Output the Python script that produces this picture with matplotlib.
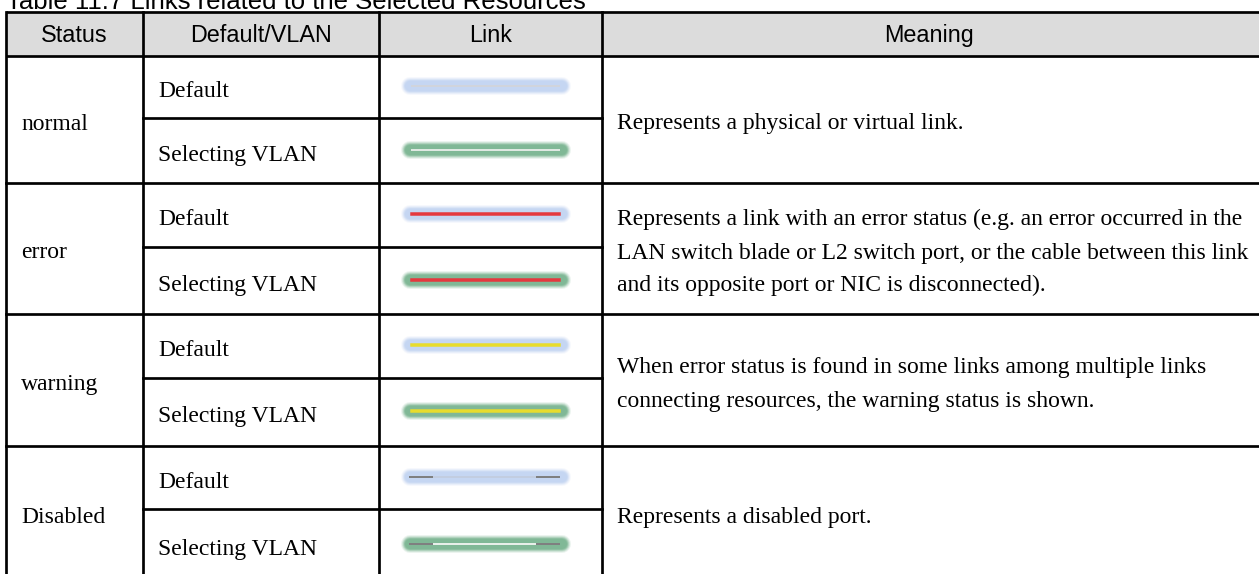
import matplotlib
matplotlib.use("Agg")
import matplotlib.pyplot as plt

# ---------------- data ----------------
title = "Table 11.7 Links related to the Selected Resources"
headers = ["Status", "Default/VLAN", "Link", "Meaning"]
statuses = ["normal", "error", "warning", "Disabled"]
subrows = ["Default", "Selecting VLAN"]
meanings = [
    ["Represents a physical or virtual link."],
    ["Represents a link with an error status (e.g. an error occurred in the",
     "LAN switch blade or L2 switch port, or the cable between this link",
     "and its opposite port or NIC is disconnected)."],
    ["When error status is found in some links among multiple links",
     "connecting resources, the warning status is shown."],
    ["Represents a disabled port."],
]
# link core colours per status
link_core = ["#d2d6de", "#e5383e", "#e8dc2c", "#7f8080"]
# glow colours per sub-row
glow_colors = ["#c5d6f2", "#80b896"]

# ---------------- layout (pixel coords) ----------------
W, H = 1259, 574
col_x = [6, 143, 379, 602, 1262]
header_top, header_bot = 12, 56
row_bounds = [56, 118, 183, 247, 314, 378, 446, 509, 580]

fig = plt.figure(figsize=(W / 100, H / 100), dpi=100)
ax = fig.add_axes([0, 0, 1, 1])
ax.set_xlim(0, W)
ax.set_ylim(H, 0)
ax.axis("off")

PX = 0.72  # points per pixel
LW = 2.7 * PX

# header background
ax.fill_between([col_x[0], col_x[-1]], header_top, header_bot, color="#dcdcdc", zorder=0)

# title (partly cut off at the top, as in the reference)
ax.text(6, 9, title, fontsize=18.5, family="Liberation Sans", va="baseline", ha="left")

# header texts
for i, h in enumerate(headers):
    cx = (col_x[i] + col_x[i + 1]) / 2
    if i == 3:
        cx = 929
    ax.text(cx, 42, h, fontsize=16.8, family="Liberation Sans", ha="center", va="baseline")

# grid lines
ax.plot([col_x[0], col_x[-1]], [header_top, header_top], color="black", lw=LW, solid_capstyle="butt")
ax.plot([col_x[0], col_x[-1]], [header_bot, header_bot], color="black", lw=LW, solid_capstyle="butt")
for x in col_x[:-1]:
    ax.plot([x, x], [header_top, H + 5], color="black", lw=LW)
for k, yb in enumerate(row_bounds[1:-1]):
    if k % 2 == 1:  # full-width boundary between statuses
        ax.plot([col_x[0], col_x[-1]], [yb, yb], color="black", lw=LW)
    else:  # sub-row boundary
        ax.plot([col_x[1], col_x[3]], [yb, yb], color="black", lw=LW)

serif = "Liberation Serif"
FS = 17
LINE_H = 33
BASE = 10  # baseline offset from a cell's vertical centre

x0, x1 = 406, 566  # glow extent
cx0, cx1 = 412, 559  # core extent

def draw_glow(y, color):
    for w, a in [(18, 0.15), (16, 0.25), (14, 0.4), (12, 0.7), (10, 1.0)]:
        ax.plot([x0 + 4, x1 - 4], [y, y], color=color, lw=w * PX, alpha=a,
                solid_capstyle="round", zorder=2)

for s, status in enumerate(statuses):
    top = row_bounds[2 * s]
    mid = row_bounds[2 * s + 1]
    bot = row_bounds[2 * s + 2]
    ycenter = (top + bot) / 2
    ax.text(21, ycenter + BASE, status, fontsize=FS, family=serif, ha="left", va="baseline")
    lines = meanings[s]
    n = len(lines)
    for j, ln in enumerate(lines):
        yy = ycenter + (j - (n - 1) / 2) * LINE_H + BASE
        ax.text(617, yy, ln, fontsize=FS, family=serif, ha="left", va="baseline")
    for r, (a, b) in enumerate([(top, mid), (mid, bot)]):
        yc = (a + b) / 2
        ax.text(158, yc + BASE, subrows[r], fontsize=FS, family=serif, ha="left", va="baseline")
        yl = yc - 1
        draw_glow(yl, glow_colors[r])
        core = link_core[s]
        if s == 0:
            inner = "#d0d4dc" if r == 0 else "#dfe9e2"
            ax.plot([cx0, cx1], [yl, yl], color=inner, lw=2 * PX, zorder=3)
        elif s in (1, 2):
            ax.plot([cx0, cx1], [yl, yl], color=core, lw=3.5 * PX, zorder=3)
        else:
            if r == 1:
                ax.plot([cx0, cx1], [yl, yl], color="#e8efe9", lw=2 * PX, zorder=3)
            else:
                ax.plot([cx0, cx1], [yl, yl], color="#c2cde0", lw=2 * PX, zorder=3)
            ax.plot([cx0 - 2, cx0 + 20], [yl, yl], color=core, lw=2 * PX, zorder=4)
            ax.plot([cx1 - 22, cx1], [yl, yl], color=core, lw=2 * PX, zorder=4)

fig.savefig("out.png", dpi=100)
